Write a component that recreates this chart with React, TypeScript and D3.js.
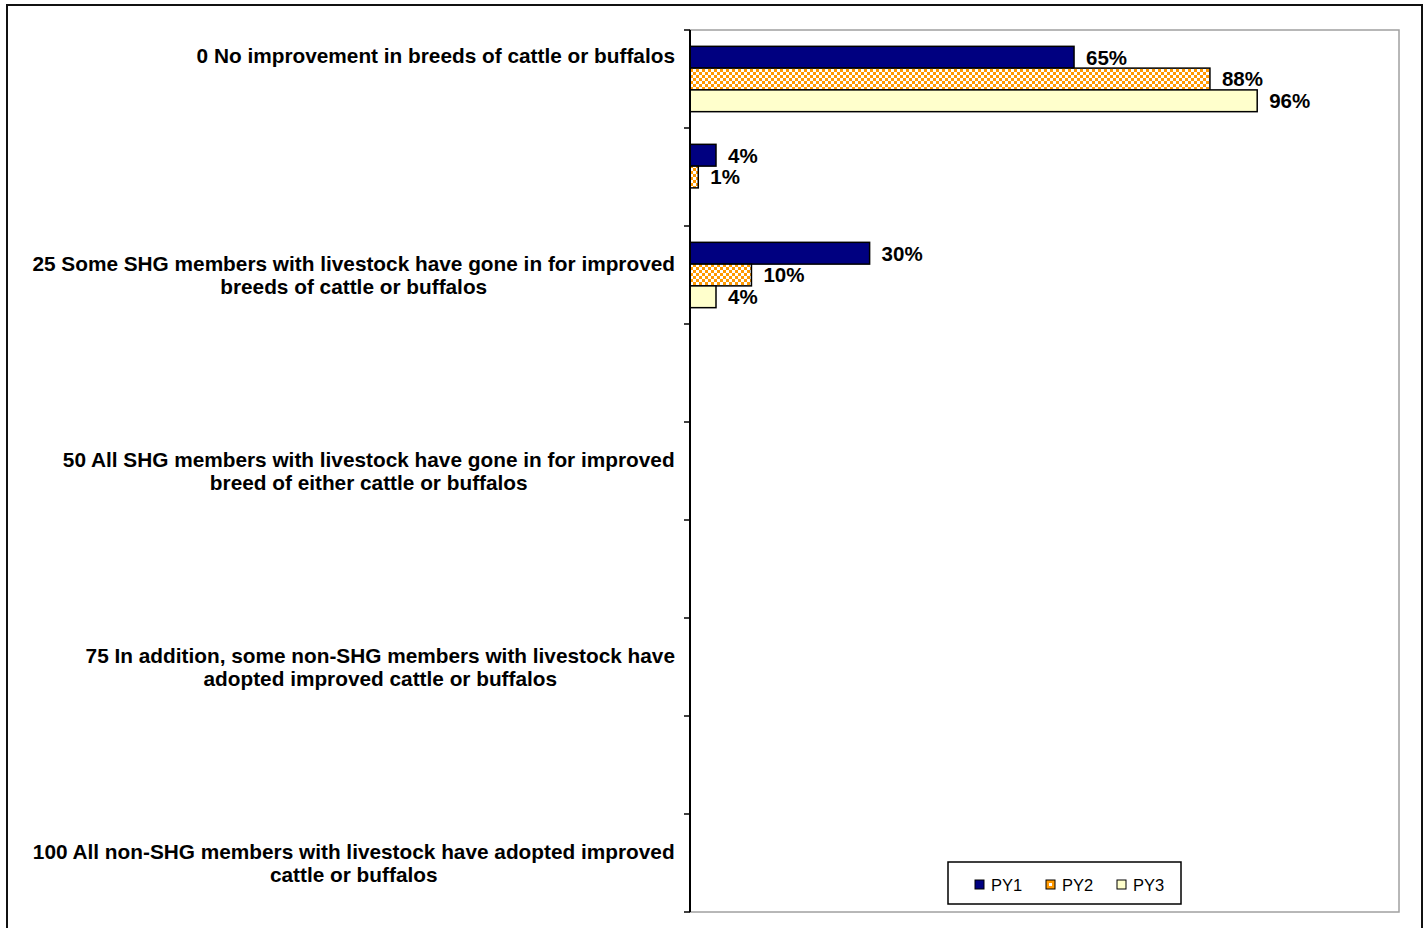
import React from "react";
import * as d3 from "d3";

const categories: string[][] = [
  ["0 No improvement in breeds of cattle or buffalos", "", ""],
  [""],
  ["25 Some SHG members with livestock have gone in for improved", "breeds of cattle or buffalos"],
  [""],
  ["50 All SHG members with livestock have gone in for improved", "breed of either cattle or buffalos"],
  [""],
  ["75 In addition, some non-SHG members with livestock have", "adopted improved cattle or buffalos"],
  [""],
  ["100 All non-SHG members with livestock have adopted improved", "cattle or buffalos"],
];

const seriesNames = ["PY1", "PY2", "PY3"];
const py1 = [65, 4.4, 30.4, null, null, null, null, null, null];
const py2 = [88, 1.4, 10.4, null, null, null, null, null, null];
const py3 = [96, null, 4.4, null, null, null, null, null, null];
const seriesValues = [py1, py2, py3];

const fills = ["#000080", "url(#checker)", "#FFFFCC"];
const FONT = "'Liberation Sans', Arial, sans-serif";
const CAT_FONT_SIZE = 20.8;

let measureCtx: CanvasRenderingContext2D | null = null;
function textWidth(s: string, font: string): number {
  if (typeof document === "undefined") return s.length * 10;
  if (!measureCtx) measureCtx = document.createElement("canvas").getContext("2d");
  if (!measureCtx) return s.length * 10;
  measureCtx.font = font;
  return measureCtx.measureText(s).width;
}

export default function App() {
  const W = 1426, H = 928;
  const plot = { left: 690, right: 1399, top: 30, bottom: 912 };
  const x = d3.scaleLinear().domain([0, 120]).range([plot.left, plot.right]);
  const y = d3
    .scaleBand<number>()
    .domain(categories.map((_, i) => i))
    .range([plot.top, plot.bottom])
    .paddingInner(0)
    .paddingOuter(0);
  const inner = d3
    .scaleBand<number>()
    .domain(seriesNames.map((_, i) => i))
    .range([0, y.bandwidth()])
    .paddingInner(0)
    .paddingOuter(0.75);
  const tickYs = d3.range(categories.length + 1).map((i) => plot.top + i * y.step());
  const lineH = 23;
  const labelRight = 675;
  const catFont = `bold ${CAT_FONT_SIZE}px 'Liberation Sans', Arial, sans-serif`;

  return (
    <svg
      width={W}
      height={H}
      style={{ position: "absolute", left: 0, top: 0, background: "#fff" }}
      fontFamily={FONT}
    >
      <defs>
        <pattern id="checker" width={6} height={6} patternUnits="userSpaceOnUse">
          <rect width={6} height={6} fill="#FF9900" />
          <rect x={0} y={0} width={3} height={3} fill="#ffffff" />
          <rect x={3} y={3} width={3} height={3} fill="#ffffff" />
        </pattern>
      </defs>
      {/* outer border */}
      <rect x={7} y={5} width={1415} height={926} fill="#fff" stroke="#111" strokeWidth={2} />
      {/* plot area */}
      <rect
        x={plot.left}
        y={plot.top}
        width={plot.right - plot.left}
        height={plot.bottom - plot.top}
        fill="#fff"
        stroke="#a0a0a0"
        strokeWidth={1.5}
      />
      {/* bars */}
      {seriesValues.map((vals, s) =>
        vals.map((v, c) => {
          if (v === null) return null;
          const by = (y(c) as number) + (inner(s) as number);
          const bh = inner.bandwidth();
          return (
            <g key={`b${s}-${c}`}>
              <rect
                x={x(0)}
                y={by}
                width={x(v) - x(0)}
                height={bh}
                fill={fills[s]}
                stroke="#000"
                strokeWidth={1.5}
              />
              <text
                x={x(v) + 12}
                y={by + bh / 2}
                dy="0.36em"
                fontSize={20.5}
                fontWeight="bold"
                fill="#000"
              >
                {`${Math.round(v)}%`}
              </text>
            </g>
          );
        })
      )}
      {/* axis */}
      <line x1={plot.left} x2={plot.left} y1={plot.top} y2={plot.bottom} stroke="#000" strokeWidth={2} />
      {tickYs.map((t, i) => (
        <line key={`t${i}`} x1={plot.left - 6} x2={plot.left} y1={t} y2={t} stroke="#000" strokeWidth={1.5} />
      ))}
      {/* category labels */}
      {categories.map((lines, i) => {
        const cy = (y(i) as number) + y.bandwidth() / 2;
        const n = lines.length;
        const maxW = d3.max(lines, (ln) => textWidth(ln, catFont)) || 0;
        const cx = labelRight - maxW / 2;
        return (
          <text key={`c${i}`} textAnchor="middle" fontSize={CAT_FONT_SIZE} fontWeight="bold" fill="#000">
            {lines.map((ln, j) => (
              <tspan key={j} x={cx} y={cy + (j - (n - 1) / 2) * lineH} dy="0.36em">
                {ln}
              </tspan>
            ))}
          </text>
        );
      })}
      {/* legend */}
      <rect x={948} y={862} width={233} height={42} fill="#fff" stroke="#000" strokeWidth={1.5} />
      {seriesNames.map((name, i) => {
        const lx = [975, 1046, 1117][i];
        return (
          <g key={`l${i}`}>
            <rect x={lx} y={880} width={9} height={9} fill={i === 1 ? "#FF9900" : fills[i]} stroke="#000" strokeWidth={1} />
            {i === 1 && <rect x={lx + 3} y={883} width={3} height={3} fill="#fff" />}
            <text x={lx + 16} y={885} dy="0.36em" fontSize={16.5} fill="#000">
              {name}
            </text>
          </g>
        );
      })}
    </svg>
  );
}
